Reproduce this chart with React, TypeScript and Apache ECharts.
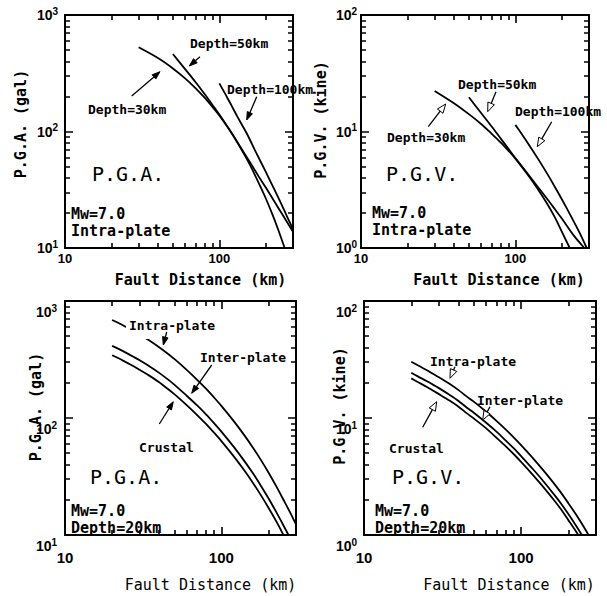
import React, { useEffect, useRef } from 'react';
import * as echarts from 'echarts';

// ---- Panel 1: P.G.A. (gal), intra-plate, Mw=7.0, by focal depth ----
const pgaD30X = [30, 40, 50, 60, 70, 80, 90, 100, 120, 140, 160, 180, 200, 220, 240, 265];
const pgaD30Y = [528, 427, 348, 286, 236, 196, 163, 137, 97, 69, 50, 36, 26.6, 19.6, 14.5, 10];
const pgaD50X = [50, 60, 70, 80, 90, 100, 120, 140, 160, 180, 200, 240, 270, 300];
const pgaD50Y = [463, 343, 266, 211, 170, 140, 97, 70, 53, 41, 33, 22.3, 17.3, 13.8];
const pgaD100X = [100, 110, 120, 130, 150, 175, 200, 225, 250, 275, 300];
const pgaD100Y = [259, 206, 167, 136, 97, 64, 45, 32.6, 24.4, 18.5, 14.5];

// ---- Panel 2: P.G.V. (kine), intra-plate, Mw=7.0, by focal depth ----
const pgvD30X = [30, 40, 50, 60, 70, 80, 90, 100, 120, 140, 160, 180, 200, 225];
const pgvD30Y = [22.3, 17.5, 14.1, 11.6, 9.6, 8.1, 6.86, 5.85, 4.28, 3.2, 2.42, 1.84, 1.38, 1.0];
const pgvD50X = [50, 60, 70, 80, 90, 100, 120, 140, 160, 180, 200, 240, 280];
const pgvD50Y = [19.7, 14.4, 11.1, 8.77, 7.13, 5.93, 4.35, 3.34, 2.66, 2.16, 1.79, 1.27, 1.0];
const pgvD100X = [100, 110, 120, 140, 160, 180, 200, 230, 260, 290];
const pgvD100Y = [11.4, 9.5, 8.02, 5.85, 4.39, 3.36, 2.62, 1.86, 1.36, 1.0];

// ---- Panels 3 & 4: Mw=7.0, Depth=20km, by earthquake type ----
const typeX = [20, 22, 25, 28, 30, 35, 40, 45, 50, 60, 70, 80, 90, 100, 120, 140, 160, 180, 200, 225, 250, 275, 300];
const pgaIntra = [688, 648, 592, 545, 516, 455, 403, 358, 320, 258, 212, 177, 149, 127, 94, 71.4, 55.2, 43.2, 34.2, 25.9, 19.9, 15.6, 12.3];
const pgaInter = [414, 390, 357, 328, 311, 274, 243, 216, 193, 155, 128, 107, 90, 76.5, 56.6, 43, 33.3, 26, 20.6, 15.6, 12, 9.4, 7.4];
const pgaCrustal = [344, 324, 296, 273, 258, 228, 202, 179, 160, 129, 106, 88.5, 74.5, 63.5, 47, 35.7, 27.6, 21.6, 17.1, 13, 9.95, 7.8, 6.15];
const pgvIntra = [30.3, 28.2, 25.7, 23.5, 22.3, 19.6, 17.3, 15.3, 13.8, 11.3, 9.4, 7.95, 6.8, 5.86, 4.48, 3.52, 2.82, 2.29, 1.87, 1.48, 1.18, 0.95, 0.78];
const pgvInter = [24.4, 22.7, 20.7, 19, 18, 15.8, 14, 12.3, 11.1, 9.1, 7.6, 6.4, 5.5, 4.73, 3.61, 2.84, 2.27, 1.85, 1.51, 1.19, 0.95, 0.77, 0.63];
const pgvCrustal = [21.8, 20.3, 18.5, 16.9, 16, 14.1, 12.5, 11, 9.9, 8.15, 6.75, 5.72, 4.9, 4.22, 3.22, 2.53, 2.03, 1.65, 1.34, 1.06, 0.85, 0.68, 0.56];

// axis ranges and tick values
const xRange = [10, 300];
const pgaRange = [10, 1000];
const pgvRange = [1, 100];
const xMajor = [10, 100];
const xMinor = [20, 30, 40, 50, 60, 70, 80, 90, 200];
const pgaMajor = [10, 100, 1000];
const pgaMinor = [20, 30, 40, 50, 60, 70, 80, 90, 200, 300, 400, 500, 600, 700, 800, 900];
const pgvMajor = [1, 10, 100];
const pgvMinor = [2, 3, 4, 5, 6, 7, 8, 9, 20, 30, 40, 50, 60, 70, 80, 90];

const MONO = '"DejaVu Sans Mono", monospace';
const SANS = '"Liberation Sans", Arial, sans-serif';

const panels = [
  { grid: { left: 65, top: 15, width: 228, height: 233 }, yr: pgaRange, yMaj: pgaMajor, yMin: pgaMinor, bottom: false, yMargin: 7 },
  { grid: { left: 361, top: 15, width: 228, height: 233 }, yr: pgvRange, yMaj: pgvMajor, yMin: pgvMinor, bottom: false, yMargin: 4 },
  { grid: { left: 65, top: 301, width: 231, height: 234 }, yr: pgaRange, yMaj: pgaMajor, yMin: pgaMinor, bottom: true, yMargin: 8 },
  { grid: { left: 364, top: 301, width: 232, height: 234 }, yr: pgvRange, yMaj: pgvMajor, yMin: pgvMinor, bottom: true, yMargin: 7 },
];

const curves = [
  { p: 0, x: pgaD30X, y: pgaD30Y },
  { p: 0, x: pgaD50X, y: pgaD50Y },
  { p: 0, x: pgaD100X, y: pgaD100Y },
  { p: 1, x: pgvD30X, y: pgvD30Y },
  { p: 1, x: pgvD50X, y: pgvD50Y },
  { p: 1, x: pgvD100X, y: pgvD100Y },
  { p: 2, x: typeX, y: pgaIntra },
  { p: 2, x: typeX, y: pgaInter },
  { p: 2, x: typeX, y: pgaCrustal },
  { p: 3, x: typeX, y: pgvIntra },
  { p: 3, x: typeX, y: pgvInter },
  { p: 3, x: typeX, y: pgvCrustal },
];

// annotation texts: [text, x, y, kind]
const notes: [string, number, number, string][] = [
  ['Depth=50km', 190, 43, 's'],
  ['Depth=100km', 227, 89, 's'],
  ['Depth=30km', 88, 109, 's'],
  ['P.G.A.', 92, 174, 'big'],
  ['Mw=7.0\nIntra-plate', 71, 222, 'm'],
  ['Depth=50km', 458, 84, 's'],
  ['Depth=100km', 515, 111, 's'],
  ['Depth=30km', 387, 137.5, 's'],
  ['P.G.V.', 386, 174, 'big'],
  ['Mw=7.0\nIntra-plate', 372, 221, 'm'],
  ['Intra-plate', 126, 325.5, 'sbg'],
  ['Inter-plate', 200, 357.5, 's'],
  ['Crustal', 139, 447, 's'],
  ['P.G.A.', 90, 477, 'big'],
  ['Mw=7.0\nDepth=20km', 71, 519.5, 'm'],
  ['Intra-plate', 430, 361, 's'],
  ['Inter-plate', 477, 400, 's'],
  ['Crustal', 389, 448.5, 's'],
  ['P.G.V.', 392, 477, 'big'],
  ['Mw=7.0\nDepth=20km', 375, 519.5, 'm'],
];

// arrows: tail x, tail y, tip x, tip y, open head
const arrows: [number, number, number, number, boolean][] = [
  [200, 56.7, 189.3, 66, false],
  [256.7, 96.7, 246.7, 120, false],
  [131.7, 96, 160, 71.7, false],
  [496, 91.7, 487.7, 111.7, true],
  [551.7, 121.7, 537.3, 146.7, true],
  [428.3, 126.7, 445.7, 104, true],
  [166.7, 332, 163.3, 345, false],
  [211.7, 365, 191.7, 393.3, false],
  [159.3, 424, 173.3, 401.7, false],
  [455, 366.7, 450, 378.3, true],
  [490, 406.7, 482.7, 420, true],
  [422.7, 427.3, 436.7, 401.7, true],
];

// axis titles: text, x, y, rotated, bold
const titles: [string, number, number, boolean, boolean][] = [
  ['P.G.A. (gal)', 21, 124, true, true],
  ['P.G.V. (kine)', 321, 120, true, true],
  ['P.G.A. (gal)', 36, 407, true, true],
  ['P.G.V. (kine)', 340, 406, true, true],
  ['Fault Distance (km)', 200.5, 280, false, true],
  ['Fault Distance (km)', 499, 280, false, true],
  ['Fault Distance (km)', 210.5, 585, false, false],
  ['Fault Distance (km)', 509, 585, false, false],
];

const isDecade = (v: number) => Math.abs(Math.log10(v) - Math.round(Math.log10(v))) < 1e-6;

function buildGraphic(): any[] {
  const graphic: any[] = [];
  notes.forEach(([t, x, y, kind]) => {
    const big = kind === 'big';
    const med = kind === 'm';
    graphic.push({
      type: 'text',
      x, y, z: 10,
      style: {
        text: t,
        fill: '#000',
        fontFamily: MONO,
        fontWeight: big ? 'normal' : 'bold',
        fontSize: big ? 20 : med ? 15 : 13,
        lineHeight: med ? 17 : undefined,
        textAlign: 'left', align: 'left',
        textVerticalAlign: 'middle', verticalAlign: 'middle',
        backgroundColor: kind === 'sbg' ? '#fff' : undefined,
        padding: kind === 'sbg' ? [2, 3, 12, 3] : undefined,
      },
    });
  });
  arrows.forEach(([x1, y1, x2, y2, open]) => {
    const dx = x2 - x1, dy = y2 - y1;
    const L = Math.hypot(dx, dy);
    const ux = dx / L, uy = dy / L;
    const hl = open ? 9 : 8;
    const hw = open ? 3.5 : 2.8;
    const bx = x2 - ux * hl, by = y2 - uy * hl;
    const px = -uy, py = ux;
    graphic.push({
      type: 'line', z: 11,
      shape: { x1, y1, x2: bx, y2: by },
      style: { stroke: '#000', lineWidth: 1.3 },
    });
    graphic.push({
      type: 'polygon', z: 11,
      shape: { points: [[x2, y2], [bx + px * hw, by + py * hw], [bx - px * hw, by - py * hw]] },
      style: { fill: open ? '#fff' : '#000', stroke: '#000', lineWidth: 1 },
    });
  });
  titles.forEach(([t, x, y, rot, bold]) => {
    graphic.push({
      type: 'text', x, y, z: 10,
      rotation: rot ? Math.PI / 2 : 0,
      style: {
        text: t,
        fill: '#000',
        fontFamily: MONO,
        fontWeight: bold ? 'bold' : 'normal',
        fontSize: 15,
        textAlign: 'center', align: 'center',
        textVerticalAlign: 'middle', verticalAlign: 'middle',
      },
    });
  });
  return graphic;
}

// inward tick segments, in data space, drawn by a 'lines' series on each panel's axes
function tickSegments(p: any) {
  const segs: any[] = [];
  const pxPerDecX = p.grid.width / Math.log10(xRange[1] / xRange[0]);
  const pxPerDecY = p.grid.height / Math.log10(p.yr[1] / p.yr[0]);
  const fy = (len: number) => Math.pow(10, len / pxPerDecY);
  const fx = (len: number) => Math.pow(10, len / pxPerDecX);
  const xt = [...xMajor.map((v) => [v, 8]), ...xMinor.map((v) => [v, 5])];
  const yt = [...p.yMaj.map((v: number) => [v, 8]), ...p.yMin.map((v: number) => [v, 5])];
  xt.forEach(([v, len]) => {
    if (v <= xRange[0] || v >= xRange[1]) return;
    segs.push({ coords: [[v, p.yr[0]], [v, p.yr[0] * fy(len)]] });
    segs.push({ coords: [[v, p.yr[1]], [v, p.yr[1] / fy(len)]] });
  });
  yt.forEach(([v, len]) => {
    if (v <= p.yr[0] || v >= p.yr[1]) return;
    segs.push({ coords: [[xRange[0], v], [xRange[0] * fx(len), v]] });
    segs.push({ coords: [[xRange[1], v], [xRange[1] / fx(len), v]] });
  });
  return segs;
}

function buildOption() {
  const grid: any[] = [];
  const xAxis: any[] = [];
  const yAxis: any[] = [];
  const lineCommon = () => ({
    axisLine: { show: true, onZero: false, lineStyle: { color: '#000', width: 2 } },
    axisTick: { show: false },
    minorTick: { show: false },
    splitLine: { show: false },
    minorSplitLine: { show: false },
  });
  const series: any[] = [];
  panels.forEach((p, gi) => {
    grid.push({ ...p.grid, containLabel: false, show: false });
    xAxis.push({
      type: 'log', logBase: 10, min: xRange[0], max: xRange[1], gridIndex: gi, position: 'bottom',
      ...lineCommon(),
      axisLabel: {
        show: true,
        margin: p.bottom ? 15 : 4,
        color: '#000',
        fontFamily: SANS,
        fontWeight: 'bold',
        fontSize: p.bottom ? 15 : 13,
        formatter: (v: number) => (isDecade(v) ? String(Math.round(v)) : ''),
      },
    });
    xAxis.push({
      type: 'log', logBase: 10, min: xRange[0], max: xRange[1], gridIndex: gi, position: 'top',
      ...lineCommon(),
      axisLabel: { show: false },
    });
    yAxis.push({
      type: 'log', logBase: 10, min: p.yr[0], max: p.yr[1], gridIndex: gi, position: 'left',
      ...lineCommon(),
      axisLabel: {
        show: true,
        margin: p.yMargin,
        padding: p.bottom ? [22, 0, 0, 0] : 0,
        formatter: (v: number) => `{b|10}{s|${Math.round(Math.log10(v))}}`,
        rich: {
          b: { fontFamily: SANS, fontWeight: 'bold', fontSize: 14, lineHeight: 18, color: '#000' },
          s: { fontFamily: SANS, fontWeight: 'bold', fontSize: 10, lineHeight: 10, verticalAlign: 'top', color: '#000' },
        },
      },
    });
    yAxis.push({
      type: 'log', logBase: 10, min: p.yr[0], max: p.yr[1], gridIndex: gi, position: 'right',
      ...lineCommon(),
      axisLabel: { show: false },
    });
    series.push({
      type: 'lines',
      coordinateSystem: 'cartesian2d',
      xAxisIndex: gi * 2,
      yAxisIndex: gi * 2,
      polyline: false,
      large: false,
      silent: true,
      z: 20,
      effect: { show: false },
      lineStyle: { color: '#000', width: 1.6, opacity: 1, curveness: 0 },
      data: tickSegments(p),
    });
  });

  curves.forEach((c) => {
    series.push({
      type: 'line',
      xAxisIndex: c.p * 2,
      yAxisIndex: c.p * 2,
      data: c.x.map((x, i) => [x, c.y[i]]),
      showSymbol: false,
      symbol: 'none',
      smooth: 0.3,
      clip: true,
      lineStyle: { color: '#000', width: 1.8 },
      silent: true,
      z: 2,
    });
  });

  return {
    animation: false,
    backgroundColor: '#fff',
    grid,
    xAxis,
    yAxis,
    series,
    graphic: buildGraphic(),
  };
}

export default function App() {
  const ref = useRef<HTMLDivElement>(null);
  useEffect(() => {
    if (!ref.current) return;
    const chart = echarts.init(ref.current, null, { renderer: 'svg' });
    chart.setOption(buildOption() as any);
    return () => chart.dispose();
  }, []);
  return (
    <div
      ref={ref}
      style={{ position: 'absolute', left: 0, top: 0, width: 607, height: 596, background: '#fff' }}
    />
  );
}
